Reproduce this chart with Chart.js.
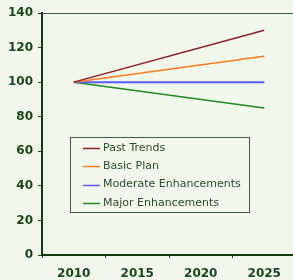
<!DOCTYPE html>
<html>
<head>
<meta charset="utf-8">
<script src="https://cdn.jsdelivr.net/npm/chart.js@4"></script>
<style>
  html, body { margin: 0; padding: 0; background: #f1f7ea; overflow: hidden; }
  #wrap { position: relative; width: 300px; height: 280px; }
</style>
</head>
<body>
<div id="wrap"><canvas id="chart"></canvas></div>
<script>
// ==================== Data ====================
const years = ['2010', '2015', '2020', '2025'];
const pastTrends = [100, null, null, 130];
const basicPlan = [100, null, null, 115];
const moderate = [100, null, null, 100];
const major = [100, null, null, 85];
const seriesNames = ['Past Trends', 'Basic Plan', 'Moderate Enhancements', 'Major Enhancements'];
const seriesColors = ['#8e1c2a', '#ff7b1e', '#5a5aff', '#1f8a1f'];

const INK = '#1d4420';

// legend drawn inside plot, like the original
const boxLegend = {
    id: 'boxLegend',
    afterDatasetsDraw(chart) {
        const ctx = chart.ctx;
        const a = chart.chartArea;
        ctx.save();
        // thin top frame line
        ctx.strokeStyle = '#3a5a3a';
        ctx.lineWidth = 1;
        ctx.beginPath();
        ctx.moveTo(a.left, a.top + 0.5);
        ctx.lineTo(a.right, a.top + 0.5);
        ctx.stroke();

        const x0 = 70.5, y0 = 137.5, w = 179, h = 75;
        ctx.strokeStyle = '#3c5c3c';
        ctx.strokeRect(x0, y0, w, h);
        ctx.font = '11px "DejaVu Sans", Verdana, sans-serif';
        ctx.textBaseline = 'middle';
        chart.data.datasets.forEach((ds, i) => {
            const y = 148 + i * 18.3;
            ctx.strokeStyle = ds.borderColor;
            ctx.lineWidth = 1.5;
            ctx.beginPath();
            ctx.moveTo(83, Math.round(y) + 0.5);
            ctx.lineTo(100, Math.round(y) + 0.5);
            ctx.stroke();
            ctx.fillStyle = '#2b4a2b';
            ctx.fillText(ds.label, 103, y);
        });
        ctx.restore();
    }
};

const mkSet = (i, data) => ({
    label: seriesNames[i],
    data: data,
    borderColor: seriesColors[i],
    backgroundColor: seriesColors[i],
    borderWidth: i === 2 ? 2 : 1.5,
    pointRadius: 0,
    spanGaps: true,
    tension: 0,
    fill: false
});

new Chart(document.getElementById('chart'), {
    type: 'line',
    data: {
        labels: years,
        datasets: [mkSet(0, pastTrends), mkSet(1, basicPlan), mkSet(2, moderate), mkSet(3, major)]
    },
    options: {
        responsive: true,
        maintainAspectRatio: false,
        animation: false,
        layout: { padding: { top: 13, right: 4, left: 0, bottom: 0 } },
        plugins: { legend: { display: false }, tooltip: { enabled: false } },
        scales: {
            x: {
                type: 'category',
                offset: true,
                grid: { display: true, drawOnChartArea: false, offset: true, tickLength: 3, color: INK, lineWidth: 1 },
                border: { display: true, color: '#0f3a12', width: 2 },
                ticks: { color: INK, padding: 9, maxRotation: 0, font: { family: '"DejaVu Sans", Verdana, sans-serif', size: 12, weight: 'bold' } },
                afterFit(s) { s.height = 25; }
            },
            y: {
                min: 0, max: 140,
                ticks: { stepSize: 20, color: INK, padding: 5, font: { family: '"DejaVu Sans", Verdana, sans-serif', size: 12, weight: 'bold' } },
                grid: { display: true, drawOnChartArea: false, tickLength: 4, color: INK, lineWidth: 1 },
                border: { display: true, color: '#0f3a12', width: 2 },
                afterFit(s) { s.width = 42; }
            }
        }
    },
    plugins: [boxLegend]
});
</script>
</body>
</html>
